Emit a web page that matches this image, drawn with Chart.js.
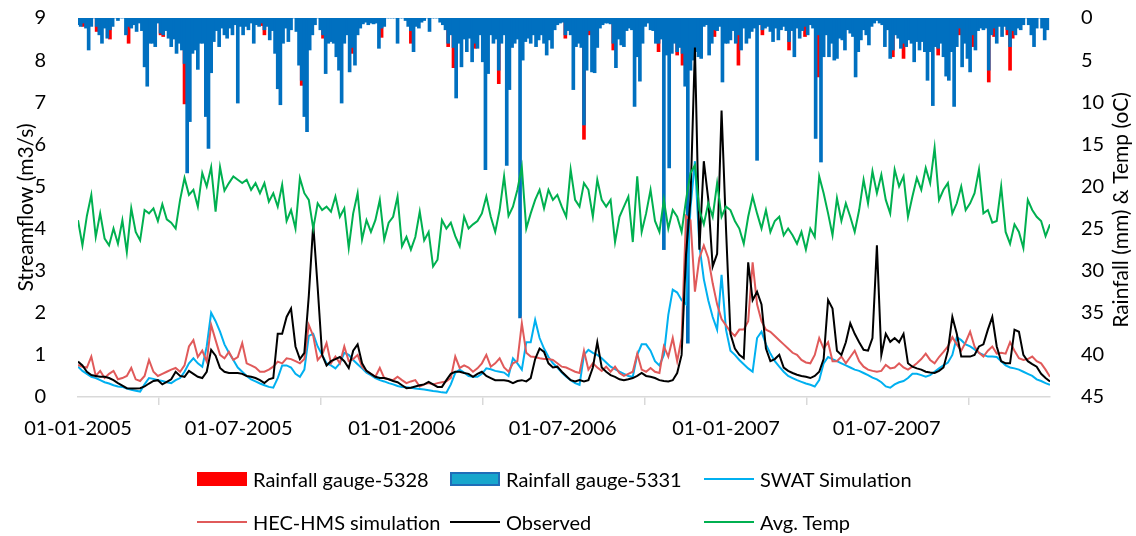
<!DOCTYPE html>
<html>
<head>
<meta charset="utf-8">
<title>Streamflow, rainfall and temperature</title>
<script src="https://cdn.jsdelivr.net/npm/chart.js@4.4.1/dist/chart.umd.min.js"></script>
<style>
    body { margin: 0; background: #fff; }
    #wrap { position: relative; width: 1136px; height: 536px; }
    #chart { position: absolute; left: 0; top: 0; }
    .lg-item { position: absolute; display: flex; align-items: center; height: 26px;
               font: 20px Lato, sans-serif; color: #000; white-space: nowrap; }
    .lg-swatch { display: inline-block; width: 50px; margin-right: 6px; box-sizing: border-box; }
</style>
</head>
<body>
<div id="wrap">
    <canvas id="chart" width="1136" height="536"></canvas>
    <div id="legend"></div>
</div>
<script>
// --- data ---

// x axis is days since 01-01-2005
const tickDays = [0, 181, 365, 546, 730, 911, 1095];
const tickLabels = ['01-01-2005', '01-07-2005', '01-01-2006', '01-07-2006', '01-01-2007', '01-07-2007', ''];

// line series are sampled every 5 days, rainfall every 3 days
const lineStep = 5;
const rainStep = 3;

// Observed streamflow (m3/s)
const observed = [
    0.84, 0.75, 0.6, 0.52, 0.5, 0.48, 0.48, 0.45, 0.40, 0.33,
    0.27, 0.21, 0.2, 0.2, 0.21, 0.25, 0.32, 0.38, 0.40, 0.3,
    0.36, 0.42, 0.6, 0.5, 0.48, 0.62, 0.55, 0.48, 0.45, 0.6,
    1.12, 0.98, 0.69, 0.6, 0.57, 0.57, 0.57, 0.55, 0.5, 0.48,
    0.45, 0.4, 0.33, 0.42, 0.45, 1.5, 1.5, 1.9, 2.1, 1.2,
    0.9, 1.05, 2.4, 4.1, 2.6, 1.0, 0.75, 0.85, 0.9, 0.95,
    0.85, 0.69, 1.1, 1.25, 0.8, 0.62, 0.55, 0.48, 0.45, 0.45,
    0.42, 0.38, 0.35, 0.28, 0.21, 0.22, 0.25, 0.28, 0.3, 0.36,
    0.3, 0.24, 0.24, 0.4, 0.55, 0.6, 0.6, 0.57, 0.55, 0.48,
    0.55, 0.6, 0.5, 0.45, 0.4, 0.4, 0.4, 0.38, 0.33, 0.38,
    0.4, 0.37, 0.45, 0.9, 1.15, 1.07, 0.8, 0.7, 0.72, 0.6,
    0.5, 0.4, 0.37, 0.4, 0.37, 0.4, 0.7, 1.3, 0.7, 0.6,
    0.52, 0.48, 0.42, 0.4, 0.42, 0.45, 0.5, 0.57, 0.5, 0.48,
    0.45, 0.4, 0.38, 0.37, 0.4, 0.57, 1.0, 3.4, 4.7, 8.3,
    3.5, 5.6, 4.7, 3.1, 3.4, 6.8, 4.0, 1.5, 1.15, 1.0,
    0.92, 3.2, 2.3, 2.5, 2.2, 1.15, 0.85, 0.9, 1.0, 0.7,
    0.62, 0.57, 0.53, 0.5, 0.48, 0.45, 0.5, 0.6, 0.9, 2.3,
    2.1, 1.1, 1.0, 1.3, 1.75, 1.5, 1.3, 1.12, 1.1, 1.4,
    3.6, 1.0, 1.5, 1.31, 1.4, 1.3, 1.5, 0.8, 0.72, 0.68,
    0.65, 0.6, 0.58, 0.57, 0.62, 0.7, 1.1, 1.9, 1.5, 0.96,
    0.96, 0.96, 1.0, 1.2, 1.25, 1.6, 1.9, 1.2, 0.85, 0.8,
    0.8, 1.6, 1.55, 1.0, 0.85, 0.78, 0.72, 0.55, 0.45, 0.37
];

// SWAT simulated streamflow (m3/s)
const swatSim = [
    0.72, 0.62, 0.55, 0.48, 0.45, 0.4, 0.35, 0.32, 0.28, 0.25,
    0.24, 0.2, 0.17, 0.15, 0.13, 0.3, 0.45, 0.43, 0.4, 0.38,
    0.35, 0.33, 0.4, 0.45, 0.6, 0.8, 0.92, 0.8, 0.72, 1.2,
    2.0, 1.8, 1.55, 1.25, 1.05, 0.88, 0.7, 0.6, 0.5, 0.42,
    0.37, 0.32, 0.28, 0.24, 0.22, 0.45, 0.75, 0.75, 0.7, 0.55,
    0.48, 0.65, 1.45, 1.5, 1.2, 1.0, 0.8, 0.75, 0.68, 0.8,
    1.05, 1.0, 0.88, 0.78, 0.68, 0.58, 0.52, 0.45, 0.4, 0.37,
    0.33, 0.3, 0.26, 0.24, 0.23, 0.22, 0.2, 0.19, 0.18, 0.16,
    0.14, 0.13, 0.11, 0.1, 0.3, 0.57, 0.65, 0.58, 0.5, 0.48,
    0.48, 0.55, 0.68, 0.66, 0.62, 0.6, 0.58, 0.5, 0.92, 0.8,
    0.65, 1.3, 1.3, 1.83, 1.4, 1.15, 0.95, 0.8, 0.7, 0.58,
    0.48, 0.4, 0.33, 0.29, 1.0, 1.12, 1.05, 1.0, 0.92, 0.82,
    0.72, 0.66, 0.6, 0.55, 0.5, 0.48, 1.0, 1.25, 1.25, 1.1,
    0.85, 0.75, 1.0, 1.95, 2.55, 2.48, 2.3, 2.2, 4.5, 5.6,
    3.6, 2.8, 2.3, 1.9, 1.6, 2.9, 1.6, 1.1, 1.0, 0.88,
    0.78, 0.68, 0.6, 1.4, 1.55, 1.25, 1.03, 0.85, 0.72, 0.6,
    0.5, 0.45, 0.4, 0.36, 0.32, 0.29, 0.25, 0.4, 0.8, 0.95,
    0.9, 0.85, 0.8, 0.75, 0.7, 0.65, 0.62, 0.57, 0.52, 0.46,
    0.42, 0.35, 0.25, 0.22, 0.3, 0.35, 0.38, 0.45, 0.55, 0.55,
    0.52, 0.48, 0.52, 0.6, 0.68, 0.75, 0.82, 1.0, 1.42, 1.35,
    1.25, 1.2, 1.13, 1.05, 1.0, 0.96, 0.96, 0.95, 0.85, 0.75,
    0.7, 0.68, 0.65, 0.6, 0.55, 0.5, 0.42, 0.38, 0.33, 0.29
];

// HEC-HMS simulated streamflow (m3/s)
const hecSim = [
    0.76, 0.72, 0.7, 0.96, 0.5, 0.62, 0.45, 0.55, 0.62, 0.42,
    0.45, 0.5, 0.69, 0.42, 0.38, 0.5, 0.88, 0.6, 0.5, 0.55,
    0.6, 0.65, 0.69, 0.6, 0.75, 1.2, 1.35, 0.95, 1.1, 0.84,
    1.71, 1.35, 1.0, 0.92, 1.07, 0.88, 0.95, 1.28, 0.8, 0.75,
    0.7, 0.6, 0.6, 0.65, 0.72, 0.84, 0.8, 0.92, 0.9, 0.85,
    0.8, 0.9, 1.71, 1.45, 0.88, 1.0, 1.28, 0.8, 0.96, 0.8,
    1.2, 0.85, 0.9, 1.0, 0.72, 0.62, 0.55, 0.48, 0.69, 0.45,
    0.42, 0.4, 0.48, 0.4, 0.33, 0.37, 0.4, 0.25, 0.3, 0.33,
    0.3, 0.33, 0.35, 0.37, 0.45, 0.96, 0.69, 0.75, 0.7, 0.6,
    0.68, 0.8, 1.0, 0.72, 0.8, 0.92, 0.7, 0.6, 0.8, 0.85,
    1.75, 1.05, 0.96, 0.95, 0.92, 0.9, 0.9, 0.88, 0.8, 0.72,
    0.7, 0.65, 0.6, 0.57, 1.1, 0.65, 0.8, 0.7, 0.62, 0.72,
    0.6, 0.72, 0.57, 0.5, 0.55, 0.6, 1.03, 0.65, 0.6, 0.69,
    0.6, 0.57, 1.2, 0.96, 1.4, 0.85, 1.4, 4.3, 4.2, 2.5,
    3.3, 3.6, 3.3, 2.7, 2.2, 1.85, 1.7, 1.55, 1.45, 1.6,
    1.6, 1.8, 3.2, 2.2, 1.8, 1.6, 1.55, 1.45, 1.35, 1.25,
    1.15, 1.05, 1.0, 0.88, 0.82, 0.8, 1.0, 1.4, 1.15, 1.3,
    0.85, 0.85, 0.96, 0.8, 0.95, 1.1, 0.85, 0.72, 0.65, 0.62,
    0.6, 0.62, 0.76, 0.68, 0.7, 0.8, 0.7, 0.65, 0.72, 0.8,
    0.9, 1.03, 0.88, 0.8, 0.95, 1.07, 1.2, 1.42, 1.25, 1.1,
    1.3, 1.55, 1.2, 1.05, 0.96, 1.1, 1.2, 1.03, 1.05, 1.03,
    1.3, 1.1, 0.92, 0.88, 0.9, 0.96, 0.85, 0.8, 0.65, 0.48
];

// Average temperature (oC), right axis
const avgTemp = [
    24.0, 27.0, 23.5, 21.0, 26.0, 23.2, 26.2, 27.0, 25.0, 26.8,
    24.0, 27.8, 22.6, 25.4, 26.4, 22.8, 23.2, 22.6, 24.1, 22.1,
    23.9, 24.3, 25.0, 21.6, 19.0, 21.0, 20.4, 22.4, 18.4, 20.0,
    17.7, 23.0, 17.7, 20.5, 19.6, 18.8, 19.2, 19.6, 19.2, 20.4,
    19.6, 20.8, 19.6, 21.8, 20.8, 22.4, 19.8, 24.1, 22.8, 25.0,
    19.0, 20.8, 21.6, 25.0, 22.0, 22.8, 22.4, 23.0, 21.2, 23.6,
    22.6, 27.3, 23.2, 20.8, 26.3, 24.0, 25.4, 24.0, 21.6, 26.3,
    24.3, 23.6, 21.2, 27.1, 26.0, 27.5, 26.0, 23.0, 26.4, 25.4,
    29.5, 28.7, 24.0, 25.0, 24.3, 25.9, 27.1, 23.6, 25.0, 24.5,
    24.1, 23.2, 21.2, 23.6, 25.4, 22.8, 18.8, 23.5, 22.4, 20.4,
    17.7, 25.0, 23.2, 21.6, 20.4, 22.6, 20.4, 21.6, 21.0, 22.4,
    23.6, 18.0, 21.6, 22.4, 19.6, 20.4, 23.6, 19.2, 21.6, 22.4,
    21.6, 26.6, 23.6, 22.4, 21.2, 26.6, 18.8, 25.4, 23.2, 20.4,
    24.1, 25.4, 21.6, 25.0, 22.8, 23.6, 25.4, 21.6, 18.4, 17.5,
    22.8, 24.5, 22.0, 23.6, 19.6, 23.6, 22.4, 22.8, 24.1, 25.0,
    26.8, 23.6, 21.2, 23.2, 25.0, 22.8, 25.4, 24.1, 23.6, 25.8,
    25.0, 25.8, 26.8, 25.4, 27.5, 25.0, 26.0, 18.8, 20.8, 23.2,
    25.8, 21.4, 24.1, 22.0, 23.6, 25.4, 22.8, 19.2, 22.0, 18.2,
    20.8, 18.6, 21.6, 23.2, 18.0, 20.0, 18.8, 23.6, 21.2, 19.0,
    20.4, 17.8, 19.6, 15.4, 21.6, 20.4, 19.6, 23.2, 22.0, 20.0,
    22.8, 22.0, 20.8, 18.0, 23.2, 22.8, 24.3, 24.1, 20.0, 25.4,
    26.8, 24.5, 25.4, 27.3, 21.6, 22.8, 23.6, 24.1, 25.9, 24.5
];

// Rainfall gauge-5331 (mm), every 3 days
const rain5331 = [
    0.8, 1.0, 0.6, 1.2, 3.8, 1.0, 0, 1.0, 2.0, 3.0,
    1.2, 2.4, 1.4, 1.0, 0, 0.3, 0, 0, 2.0, 1.0,
    1.2, 0.8, 1.6, 0.6, 1.5, 5.8, 8.1, 3.0, 3.0, 3.4,
    0.6, 1.8, 2.0, 1.5, 2.4, 3.4, 2.5, 4.2, 3.0, 3.8,
    5.4, 18.4, 12.3, 4.2, 3.8, 6.1, 3.0, 3.0, 11.7, 15.5,
    6.5, 2.8, 1.5, 3.4, 1.2, 2.0, 2.4, 1.2, 2.0, 0.8,
    10.1, 1.0, 2.0, 1.0, 1.4, 0.6, 3.0, 0.8, 1.0, 0.6,
    1.4, 1.0, 2.6, 1.5, 4.2, 8.4, 10.3, 3.0, 1.2, 2.8,
    1.4, 0, 1.6, 5.6, 7.4, 11.7, 13.5, 3.8, 2.0, 0.8,
    0, 1.4, 2.0, 6.6, 3.0, 2.8, 3.0, 4.6, 6.2, 10.1,
    3.0, 2.0, 6.4, 3.5, 5.6, 2.0, 1.2, 0.7, 0.5, 0.8,
    0.6, 0.7, 0.6, 3.6, 1.2, 1.0, 0, 0, 0, 0,
    3.0, 0, 0, 0.3, 1.0, 1.5, 4.0, 1.0, 1.2, 0.5,
    0.3, 0, 1.6, 0, 0, 0, 0.5, 0.8, 1.4, 3.0,
    2.0, 3.5, 9.5, 3.0, 5.8, 2.5, 4.0, 2.4, 5.2, 3.0,
    3.6, 2.0, 5.2, 18.0, 6.6, 2.0, 3.0, 2.5, 6.2, 3.0,
    2.0, 17.5, 8.5, 3.5, 3.0, 2.5, 35.6, 5.0, 2.8, 2.4,
    3.0, 2.0, 3.4, 2.6, 2.0, 3.0, 4.4, 2.6, 3.6, 1.4,
    0.8, 0.6, 0.5, 2.0, 1.5, 2.0, 8.5, 3.4, 3.0, 3.5,
    12.7, 6.2, 1.5, 6.4, 6.5, 3.5, 1.2, 0.8, 0.6, 0.6,
    0.7, 3.0, 5.9, 2.5, 3.2, 3.4, 1.5, 1.2, 1.4, 10.5,
    4.6, 7.5, 3.0, 1.0, 0.6, 1.4, 1.5, 3.0, 3.0, 2.5,
    27.5, 4.4, 17.8, 4.2, 3.0, 4.0, 3.5, 4.2, 8.1, 38.6,
    6.2, 5.0, 4.0, 4.6, 4.8, 1.0, 0.8, 4.4, 3.0, 1.4,
    1.5, 1.0, 7.6, 3.0, 3.0, 2.6, 1.5, 3.0, 2.0, 3.8,
    1.2, 3.0, 2.4, 1.6, 1.2, 16.9, 0.8, 1.4, 1.2, 1.0,
    1.6, 2.8, 1.2, 2.6, 1.4, 1.0, 1.5, 2.8, 1.5, 4.6,
    1.2, 2.4, 1.5, 1.0, 2.0, 0.8, 1.2, 14.3, 2.0, 17.1,
    4.6, 2.0, 4.6, 3.0, 5.0, 4.8, 2.4, 2.6, 3.8, 1.4,
    1.8, 2.2, 7.0, 4.0, 2.6, 1.4, 2.0, 3.2, 1.0, 0.6,
    0.3, 0.6, 0.8, 3.4, 1.4, 4.8, 3.8, 2.0, 2.4, 3.6,
    3.0, 3.4, 2.6, 3.0, 5.2, 2.8, 3.8, 2.8, 4.0, 7.4,
    4.0, 10.4, 3.4, 3.6, 3.0, 4.6, 6.9, 7.4, 4.0, 10.5,
    3.4, 1.2, 5.8, 3.0, 4.8, 6.4, 2.0, 3.8, 1.5, 1.2,
    1.4, 1.2, 6.2, 2.0, 1.2, 3.0, 1.0, 2.2, 1.0, 1.4,
    3.4, 1.5, 2.0, 1.2, 1.4, 0.8, 0, 0.8, 2.0, 3.4,
    1.2, 0, 1.2, 2.6, 1.4
];

// Rainfall gauge-5328 (mm): only the days where it shows above gauge-5331
const rain5328Days = [6, 21, 36, 57, 93, 96, 120, 207, 210, 252, 276, 309, 342, 375, 417, 423, 447, 474,
    549, 570, 576, 603, 654, 675, 681, 717, 744, 771, 801, 819, 834, 918, 930, 969, 993, 1008,
    1026, 1032, 1047, 1050, 1053];
const rain5328 = [1.0, 1.6, 2.5, 3.0, 2.0, 2.2, 10.2, 0.9, 2.0, 8.0, 2.4, 4.2, 2.3, 3.0, 3.4, 5.9, 3.6, 7.8,
    2.4, 14.4, 2.0, 3.8, 4.0, 4.4, 5.6, 2.2, 5.6, 2.0, 3.8, 2.2, 7.0, 4.6, 4.8, 4.4, 2.0, 3.4,
    7.6, 2.2, 2.0, 6.2, 2.4];

const leftTitle = 'Streamflow (m3/s)';
const rightTitle = 'Rainfall (mm) & Temp (oC)';

// --- build {x, y} points ---
function toPoints(values, step) {
    return values.map((v, i) => ({ x: i * step, y: v }));
}

const FONT = 'Lato, sans-serif';

// right axis title reads bottom-to-top, like the left one
const rightTitlePlugin = {
    id: 'rightTitle',
    afterDraw(chart) {
        const ctx = chart.ctx;
        ctx.save();
        ctx.translate(1121, 210);
        ctx.rotate(-Math.PI / 2);
        ctx.font = '21px ' + FONT;
        ctx.fillStyle = '#000';
        ctx.textAlign = 'center';
        ctx.textBaseline = 'middle';
        ctx.fillText(rightTitle, 0, 0);
        ctx.restore();
    }
};

// fixed axis width; keep the label padding from pushing the plot down
function fixVertical(width) {
    return (scale) => {
        scale.width = width;
        scale.paddingTop = 10;
        scale.paddingBottom = 10;
    };
}

const datasets = [
    {
        type: 'bar', label: 'Rainfall gauge-5328',
        data: rain5328Days.map((d, i) => ({ x: d, y: rain5328[i] })),
        yAxisID: 'y2', backgroundColor: '#FF0000', barThickness: 3, grouped: false, order: 10,
        legendFill: '#FF0000', legendEdge: '#FF0000'
    },
    {
        type: 'bar', label: 'Rainfall gauge-5331',
        data: toPoints(rain5331, rainStep),
        yAxisID: 'y2', backgroundColor: '#0070C0', barThickness: 3, grouped: false, order: 9,
        legendFill: '#17A6CC', legendEdge: '#1F6DB8'
    },
    {
        type: 'line', label: 'SWAT Simulation', data: toPoints(swatSim, lineStep),
        yAxisID: 'y', borderColor: '#00B0F0', borderWidth: 2, pointRadius: 0, order: 5
    },
    {
        type: 'line', label: 'HEC-HMS simulation', data: toPoints(hecSim, lineStep),
        yAxisID: 'y', borderColor: '#E05A5A', borderWidth: 2, pointRadius: 0, order: 4
    },
    {
        type: 'line', label: 'Observed', data: toPoints(observed, lineStep),
        yAxisID: 'y', borderColor: '#000000', borderWidth: 2, pointRadius: 0, order: 3
    },
    {
        type: 'line', label: 'Avg. Temp', data: toPoints(avgTemp, lineStep),
        yAxisID: 'y2', borderColor: '#00B050', borderWidth: 2, pointRadius: 0, order: 2
    }
];

const chart = new Chart(document.getElementById('chart').getContext('2d'), {
    type: 'line',
    data: { datasets: datasets },
    options: {
        responsive: false,
        animation: false,
        layout: { padding: { top: 18, right: 0, bottom: 79, left: 0 } },
        plugins: { legend: { display: false }, tooltip: { enabled: false } },
        scales: {
            x: {
                type: 'linear', min: 0, max: 1095, offset: false,
                afterBuildTicks: (scale) => { scale.ticks = tickDays.map(v => ({ value: v })); },
                afterFit: (scale) => { scale.height = 60; },
                ticks: {
                    autoSkip: false, maxRotation: 0, padding: 12, color: '#000',
                    font: { family: FONT, size: 20 },
                    callback: (value, index) => tickLabels[index]
                },
                grid: { display: true, drawOnChartArea: false, drawTicks: true, tickLength: 8, color: '#D9D9D9', lineWidth: 1.5 },
                border: { display: true, color: '#D9D9D9', width: 1.5 }
            },
            y: {
                position: 'left', min: 0, max: 9,
                afterFit: fixVertical(78),
                ticks: { stepSize: 1, padding: 24, color: '#000', font: { family: FONT, size: 20 } },
                grid: { display: false },
                border: { display: false },
                title: { display: true, text: leftTitle, color: '#000', font: { family: FONT, size: 21 }, padding: { top: 14, bottom: 0 } }
            },
            y2: {
                position: 'right', min: 0, max: 45, reverse: true,
                afterFit: fixVertical(86),
                ticks: { stepSize: 5, padding: 23, color: '#000', font: { family: FONT, size: 20 } },
                grid: { display: false },
                border: { display: false }
            }
        }
    },
    plugins: [rightTitlePlugin]
});

// --- legend in three fixed columns, two rows ---
const legendCols = [197, 450, 704];
const legendRows = [479, 522];
const legendBox = document.getElementById('legend');
datasets.forEach((ds, k) => {
    const item = document.createElement('div');
    item.className = 'lg-item';
    item.style.left = legendCols[k % 3] + 'px';
    item.style.top = (legendRows[Math.floor(k / 3)] - 13) + 'px';
    const sw = document.createElement('span');
    sw.className = 'lg-swatch';
    if (ds.type === 'bar') {
        sw.style.height = '14px';
        sw.style.background = ds.legendFill;
        sw.style.border = '2px solid ' + ds.legendEdge;
    } else {
        sw.style.height = '2px';
        sw.style.background = ds.borderColor;
    }
    item.appendChild(sw);
    item.appendChild(document.createTextNode(ds.label));
    legendBox.appendChild(item);
});
</script>
</body>
</html>
